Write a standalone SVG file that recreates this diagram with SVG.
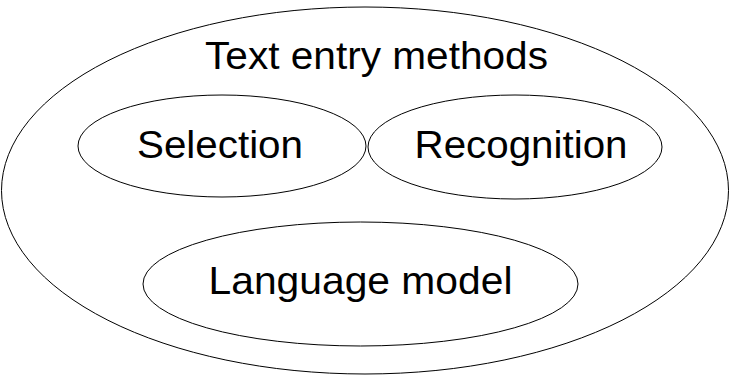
<svg xmlns="http://www.w3.org/2000/svg" width="729" height="378" viewBox="0 0 729 378">
<style>
.e{fill:none;stroke:#000;stroke-width:1}
.t{font-family:"Liberation Sans",Arial,sans-serif;font-size:39px;fill:#000;text-anchor:middle}
</style>
<rect width="729" height="378" fill="#fff"/>
<g id="text-entry-methods">
<ellipse class="e" cx="365" cy="190.5" rx="363.5" ry="183.5"/>
<text class="t" x="376.5" y="69" textLength="343" lengthAdjust="spacingAndGlyphs">Text entry methods</text>
</g>
<g id="selection">
<ellipse class="e" cx="222" cy="146" rx="144" ry="51"/>
<text class="t" x="220" y="158" textLength="166" lengthAdjust="spacingAndGlyphs">Selection</text>
</g>
<g id="recognition">
<ellipse class="e" cx="515" cy="147" rx="147" ry="52"/>
<text class="t" x="521" y="158" textLength="213" lengthAdjust="spacingAndGlyphs">Recognition</text>
</g>
<g id="language-model">
<ellipse class="e" cx="360.5" cy="284" rx="217.5" ry="62"/>
<text class="t" x="360.5" y="294" textLength="304" lengthAdjust="spacingAndGlyphs">Language model</text>
</g>
<g id="connectors"/>
</svg>
